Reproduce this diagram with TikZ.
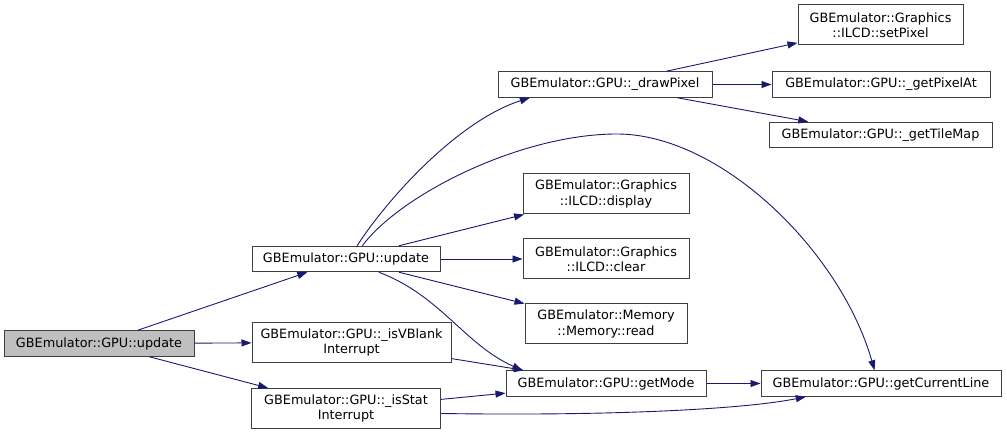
\documentclass[tikz,border=0pt]{standalone}
\usepackage{fontspec}
\setmainfont{DejaVu Sans}
\usetikzlibrary{arrows.meta}
\definecolor{callblue}{HTML}{191970}
\definecolor{boxline}{HTML}{3F3F3F}
\definecolor{rootfill}{HTML}{BFBFBF}

\begin{document}
\begin{tikzpicture}[x=1pt,y=-1pt,font=\fontsize{12.8}{15.5}\selectfont,
    fn/.style={draw=boxline,fill=white,line width=1pt,inner sep=0pt,minimum height=25.5pt,align=center},
    fn2/.style={fn,minimum height=40pt},
    call/.style={-{Triangle[length=10pt,width=7pt]},callblue,line width=0.9pt}]
  \useasboundingbox (0,0) rectangle (1007,435);
  % caller and first level
  \node[fn,fill=rootfill,minimum width=190pt] (main) at (99,343.5) {GBEmulator::GPU::update};
  \node[fn,minimum width=188pt] (upd) at (346,259) {GBEmulator::GPU::update};
  \node[fn2,minimum width=199pt] (vblank) at (351.5,342.5) {GBEmulator::GPU::\_isVBlank\\Interrupt};
  \node[fn2,minimum width=189pt] (stat) at (346,408.5) {GBEmulator::GPU::\_isStat\\Interrupt};
  % second level
  \node[fn,minimum width=214pt] (drawpx) at (605,84.5) {GBEmulator::GPU::\_drawPixel};
  \node[fn2,minimum width=166pt] (display) at (606,194) {GBEmulator::Graphics\\::ILCD::display};
  \node[fn2,minimum width=166pt] (clear) at (606,259) {GBEmulator::Graphics\\::ILCD::clear};
  \node[fn2,minimum width=162pt] (read) at (606,324) {GBEmulator::Memory\\::Memory::read};
  \node[fn,minimum width=200pt] (mode) at (606,383.5) {GBEmulator::GPU::getMode};
  % third level
  \node[fn2,minimum width=165pt] (setpx) at (880.5,25) {GBEmulator::Graphics\\::ILCD::setPixel};
  \node[fn,minimum width=218pt] (getpx) at (881,84.5) {GBEmulator::GPU::\_getPixelAt};
  \node[fn,minimum width=223pt] (tilemap) at (880.5,135) {GBEmulator::GPU::\_getTileMap};
  \node[fn,minimum width=240pt] (curline) at (881,383.5) {GBEmulator::GPU::getCurrentLine};

  \draw[call] (main) -- (upd);
  \draw[call] (main) -- (vblank);
  \draw[call] (main) -- (stat);
  \draw[call] (upd.50) .. controls (390,195) and (460,120) .. (drawpx.190);
  \draw[call] (upd.39) .. controls (400,195) and (520,134) .. (617,134)
                       .. controls (720,134) and (840,250) .. (curline.116);
  \draw[call] (upd) -- (display);
  \draw[call] (upd) -- (clear);
  \draw[call] (upd) -- (read);
  \draw[call] (upd.-22) .. controls (440,295) and (465,345) .. (mode.171);
  \draw[call] (vblank) -- (mode);
  \draw[call] (stat) -- (mode);
  \draw[call] (stat.-3) .. controls (600,416) and (740,410) .. (curline.190);
  \draw[call] (mode) -- (curline);
  \draw[call] (drawpx) -- (setpx);
  \draw[call] (drawpx) -- (getpx);
  \draw[call] (drawpx) -- (tilemap);
\end{tikzpicture}
\end{document}
